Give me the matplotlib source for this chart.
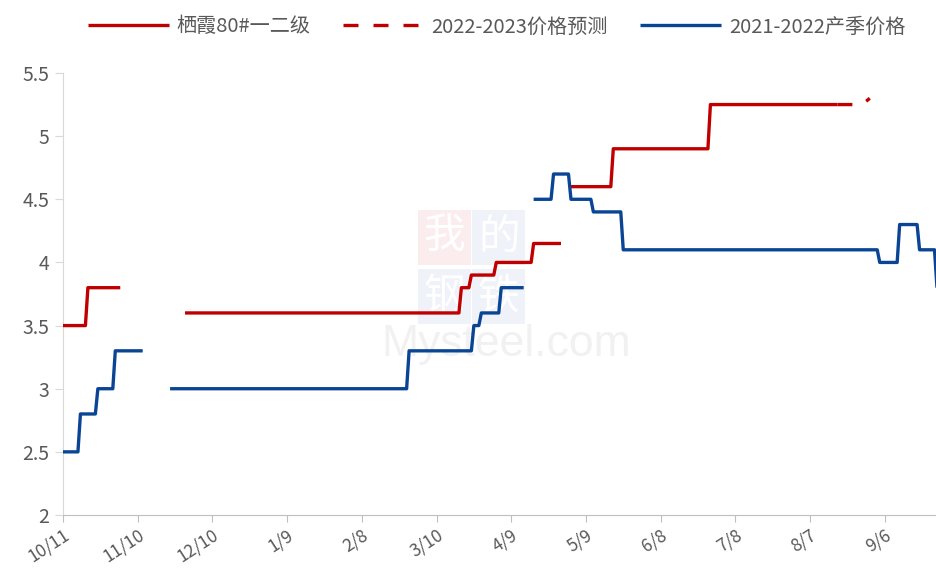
import numpy as np
import pandas as pd
import matplotlib
matplotlib.use("Agg")
import matplotlib.pyplot as plt
from matplotlib.patches import Rectangle

plt.rcParams['font.family'] = ['Noto Sans CJK SC', 'DejaVu Sans']

# ---- data ----
red_dates = ["2021-10-11", "2021-10-20", "2021-10-21", "2021-11-03", None,
             "2021-11-29", "2022-03-19", "2022-03-20", "2022-03-23", "2022-03-24",
             "2022-04-02", "2022-04-03", "2022-04-17", "2022-04-18", "2022-04-29", None,
             "2022-05-03", "2022-05-19", "2022-05-20", "2022-06-27", "2022-06-28", "2022-08-18"]
red_vals = [3.5, 3.5, 3.8, 3.8, None,
            3.6, 3.6, 3.8, 3.8, 3.9,
            3.9, 4.0, 4.0, 4.15, 4.15, None,
            4.6, 4.6, 4.9, 4.9, 5.25, 5.25]

fc_dates = ["2022-08-18", "2022-08-28", "2022-08-31"]
fc_vals = [5.25, 5.25, 5.3]

blue_dates = ["2021-10-11", "2021-10-17", "2021-10-18", "2021-10-24", "2021-10-25",
              "2021-10-31", "2021-11-01", "2021-11-12", None,
              "2021-11-23", "2022-02-26", "2022-02-27", "2022-03-24", "2022-03-25",
              "2022-03-27", "2022-03-28", "2022-04-04", "2022-04-05", "2022-04-14", None,
              "2022-04-18", "2022-04-25", "2022-04-26", "2022-05-02", "2022-05-03",
              "2022-05-11", "2022-05-12", "2022-05-23", "2022-05-24", "2022-09-03",
              "2022-09-04", "2022-09-11", "2022-09-12", "2022-09-19", "2022-09-20",
              "2022-09-26", "2022-09-27"]
blue_vals = [2.5, 2.5, 2.8, 2.8, 3.0,
             3.0, 3.3, 3.3, None,
             3.0, 3.0, 3.3, 3.3, 3.5,
             3.5, 3.6, 3.6, 3.8, 3.8, None,
             4.5, 4.5, 4.7, 4.7, 4.5,
             4.5, 4.4, 4.4, 4.1, 4.1,
             4.0, 4.0, 4.3, 4.3, 4.1,
             4.1, 3.8]

tick_dates = ["2021-10-11", "2021-11-10", "2021-12-10", "2022-01-09", "2022-02-08",
              "2022-03-10", "2022-04-09", "2022-05-09", "2022-06-08", "2022-07-08",
              "2022-08-07", "2022-09-06"]
tick_labels = ["10/11", "11/10", "12/10", "1/9", "2/8", "3/10", "4/9", "5/9",
               "6/8", "7/8", "8/7", "9/6"]
y_ticks = [2, 2.5, 3, 3.5, 4, 4.5, 5, 5.5]
y_labels = ["2", "2.5", "3", "3.5", "4", "4.5", "5", "5.5"]

labels = ["栖霞80#一二级", "2022-2023价格预测", "2021-2022产季价格"]


def to_xy(dates, vals):
    x = [pd.Timestamp(d) if d is not None else pd.NaT for d in dates]
    y = [v if v is not None else np.nan for v in vals]
    return pd.to_datetime(pd.Series(x)), np.array(y, dtype=float)


RED = "#C00000"
BLUE = "#0A4595"
GRAY = "#595959"

fig = plt.figure(figsize=(9.37, 5.70), dpi=100)
ax = fig.add_axes([63 / 937, 1 - 515 / 570, 1 - 63 / 937, (515 - 73) / 570])

# watermark (faint boxes with white characters + Mysteel.com)
wm = [("我", 0.406, 0.566, "#FBEDED"), ("的", 0.468, 0.566, "#EFF2F8"),
      ("钢", 0.406, 0.432, "#EFF2F8"), ("铁", 0.468, 0.432, "#EFF2F8")]
for ch, x0, y0, c in wm:
    ax.add_patch(Rectangle((x0, y0), 0.061, 0.125, transform=ax.transAxes,
                           facecolor=c, edgecolor="none", zorder=0))
    ax.text(x0 + 0.0305, y0 + 0.0625, ch, transform=ax.transAxes, fontsize=30,
            color="white", ha="center", va="center", zorder=0.5)
ax.text(0.507, 0.385, "Mysteel.com", transform=ax.transAxes, fontsize=32,
        color="#F1F1F1", ha="center", va="center", family="Liberation Sans", zorder=0.4)

x, y = to_xy(red_dates, red_vals)
ax.plot(x, y, color=RED, lw=2.4, solid_capstyle="butt", label=labels[0], zorder=3)
x, y = to_xy(fc_dates, fc_vals)
ax.plot(x, y, color=RED, lw=2.4, linestyle=(0, (4.5, 4.5)), dash_capstyle="butt",
        label=labels[1], zorder=3)
x, y = to_xy(blue_dates, blue_vals)
ax.plot(x, y, color=BLUE, lw=2.4, solid_capstyle="butt", label=labels[2], zorder=3)

ax.set_xlim(pd.Timestamp("2021-10-11"), pd.Timestamp("2022-09-27"))
ax.set_ylim(2, 5.5)
ax.set_yticks(y_ticks)
ax.set_yticklabels(y_labels)
ax.set_xticks(pd.to_datetime(tick_dates))
ax.set_xticklabels(tick_labels, rotation=33, ha="right", rotation_mode="anchor")

for s in ["top", "right"]:
    ax.spines[s].set_visible(False)
ax.spines["left"].set_color("#D9D9D9")
ax.spines["bottom"].set_color("#BFBFBF")
ax.tick_params(axis="y", colors="#D9D9D9", labelcolor=GRAY, labelsize=14, length=6, pad=4)
ax.tick_params(axis="x", colors="#BFBFBF", labelcolor=GRAY, labelsize=12.5, length=5, pad=3)

fig.legend(loc="center", bbox_to_anchor=(0.53, 1 - 27 / 570), ncol=3, frameon=False,
           fontsize=14.5, labelcolor=GRAY, handlelength=4.0, columnspacing=1.6,
           handletextpad=0.4)

fig.savefig("out.png", dpi=100)
